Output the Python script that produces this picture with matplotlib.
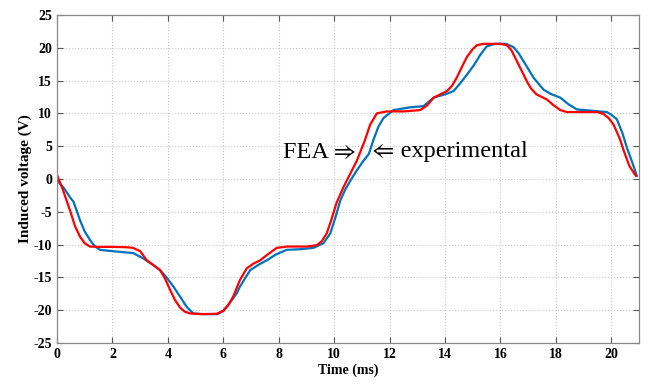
import matplotlib.pyplot as plt

plt.rcParams['font.family'] = ['Liberation Serif', 'DejaVu Serif']
plt.rcParams['axes.unicode_minus'] = False

# FEA (red)
t_fea = [0, 0.2, 0.47, 0.65, 0.83, 1.0, 1.19, 1.5, 2.0, 2.5, 2.74, 3.0, 3.24, 3.5, 3.72,
         3.9, 4.08, 4.25, 4.44, 4.6, 4.8, 5.2, 5.76, 6.0, 6.2, 6.36, 6.6, 6.85, 7.09,
         7.33, 7.6, 7.93, 8.3, 9.0, 9.37, 9.55, 9.73, 9.9, 10.09, 10.33, 10.58, 10.82,
         11.1, 11.3, 11.54, 11.9, 12.5, 13.1, 13.35, 13.59, 14.07, 14.25, 14.43, 14.6,
         14.79, 15.0, 15.15, 15.4, 16.0, 16.23, 16.4, 16.6, 16.8, 16.95, 17.1, 17.3,
         17.68, 17.9, 18.16, 18.4, 19.0, 19.5, 19.72, 19.9, 20.08, 20.3, 20.45, 20.65,
         20.88]
v_fea = [0.6, -1.5, -4.8, -7.2, -8.8, -9.8, -10.3, -10.35, -10.35, -10.4, -10.5,
         -11.0, -12.4, -13.2, -13.9, -15.2, -16.9, -18.4, -19.6, -20.2, -20.5, -20.6,
         -20.55, -20.1, -19.1, -17.9, -15.4, -13.6, -12.9, -12.4, -11.5, -10.5, -10.3,
         -10.3, -10.1, -9.5, -8.3, -6.2, -3.6, -1.3, 0.8, 2.8, 5.8, 8.3, 10.0, 10.3,
         10.3, 10.5, 11.2, 12.4, 13.4, 14.2, 15.5, 17.0, 18.6, 19.8, 20.4, 20.6, 20.6,
         20.4, 19.6, 17.9, 16.2, 14.9, 13.8, 12.9, 12.1, 11.3, 10.5, 10.2, 10.2, 10.2,
         9.9, 9.3, 8.3, 6.2, 4.3, 2.0, 0.5]

# experimental (blue)
t_exp = [0, 0.25, 0.47, 0.6, 0.83, 1.0, 1.19, 1.35, 1.55, 2.0, 2.75, 3.11, 3.4, 3.72,
         3.95, 4.2, 4.45, 4.68, 4.92, 5.3, 5.8, 6.0, 6.12, 6.3, 6.49, 6.6, 6.97, 7.3,
         7.57, 7.9, 8.29, 8.8, 9.25, 9.61, 9.86, 10.05, 10.22, 10.4, 10.58, 10.8, 11.06,
         11.25, 11.42, 11.6, 11.78, 12.14, 12.7, 13.22, 13.59, 14.0, 14.31, 14.55, 14.79,
         15.05, 15.27, 15.5, 15.8, 16.2, 16.47, 16.65, 16.84, 17.0, 17.2, 17.56, 17.85,
         18.16, 18.45, 18.76, 19.3, 19.84, 20.0, 20.2, 20.4, 20.56, 20.75, 20.92]
v_exp = [-0.2, -1.4, -2.8, -3.5, -6.3, -8.0, -9.3, -10.2, -10.8, -11.0, -11.3, -12.1,
         -12.9, -13.9, -15.0, -16.4, -18.0, -19.5, -20.5, -20.6, -20.6, -20.1, -19.5,
         -18.5, -17.4, -16.4, -13.9, -13.0, -12.4, -11.5, -10.8, -10.7, -10.5, -9.8,
         -8.3, -5.8, -3.3, -1.6, -0.3, 1.2, 2.8, 3.8, 6.0, 8.0, 9.3, 10.5, 10.9, 11.1,
         12.4, 12.9, 13.4, 14.6, 15.9, 17.4, 18.9, 20.2, 20.6, 20.6, 20.1, 19.2, 17.9,
         16.8, 15.4, 13.6, 12.9, 12.4, 11.4, 10.6, 10.4, 10.2, 9.8, 9.1, 7.0, 4.8,
         2.6, 0.5]

xticks = [0, 2, 4, 6, 8, 10, 12, 14, 16, 18, 20]
yticks = [-25, -20, -15, -10, -5, 0, 5, 10, 15, 20, 25]

fig = plt.figure(figsize=(6.53, 3.84), dpi=100)
ax = fig.add_axes([0.0873, 0.1068, 0.8913, 0.8542])

ax.plot(t_exp, v_exp, color='#0072BD', lw=1.6)
ax.plot(t_fea, v_fea, color='#FF0000', lw=1.6)

ax.set_xlim(0, 21)
ax.set_ylim(-25, 25)
ax.set_xticks(xticks)
ax.set_yticks(yticks)
ax.grid(True, linestyle=':', color='#c8c8c8', lw=0.8)
ax.tick_params(direction='in', top=True, right=True, length=4, width=0.8,
               color='#555555', labelsize=10)
for lab in ax.get_xticklabels() + ax.get_yticklabels():
    lab.set_fontweight('bold')
for s in ax.spines.values():
    s.set_color('#888888')
    s.set_linewidth(0.9)

ax.set_xlabel('Time (ms)', fontsize=10, fontweight='bold', labelpad=2)
ax.set_ylabel('Induced voltage (V)', fontsize=11, fontweight='bold', labelpad=1)

fam = ['Liberation Serif', 'STIXGeneral', 'DejaVu Serif']
ax.text(10.78, 3.3, 'FEA \u21d2', fontsize=17.5, ha='right', va='baseline', family=fam)
ax.text(11.36, 3.3, '\u21d0 experimental', fontsize=17.5, ha='left', va='baseline', family=fam)

plt.savefig('out.png', dpi=100)
